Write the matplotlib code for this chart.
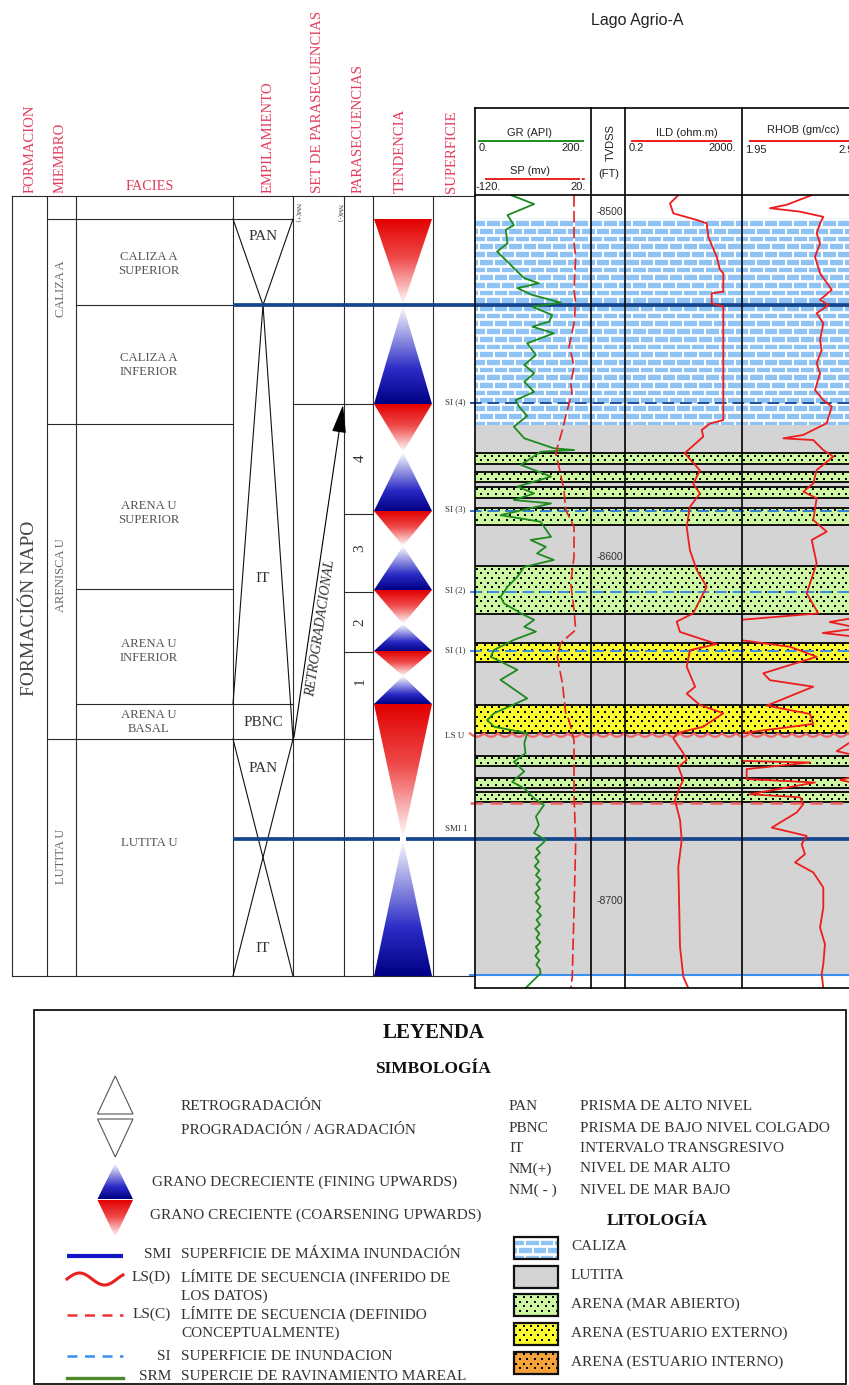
import numpy as np
import matplotlib
matplotlib.use("Agg")
import matplotlib.pyplot as plt
from matplotlib.patches import Polygon, Rectangle
from matplotlib.collections import LineCollection
from matplotlib.colors import LinearSegmentedColormap

# ---------------------------------------------------------------- log data
# Depth is TVDSS in feet (positive down); labels show it negative.
GR_DEPTH = [8495.1, 8497.7, 8500.9, 8503.8, 8505.2, 8509.1, 8511.5, 8514.4, 8517.3, 8519.2,
            8520.7, 8522.1, 8524.1, 8526.3, 8527.5, 8529.9, 8531.8, 8533.3, 8535.2, 8538.1,
            8541.5, 8544.4, 8546.8, 8549.3, 8552.2, 8554.6, 8556.5, 8559.2, 8562.3, 8565.7,
            8568.6, 8569.1, 8569.6, 8573.4, 8576.8, 8579.7, 8581.7, 8583.6, 8584.6, 8588.0,
            8589.9, 8594.3, 8595.2, 8597.2, 8599.1, 8601.0, 8603.0, 8605.9, 8608.8, 8611.7,
            8613.6, 8616.5, 8618.4, 8620.4, 8621.8, 8624.2, 8627.1, 8629.1, 8631.0, 8632.9,
            8635.8, 8641.2, 8645.5, 8647.5, 8649.4, 8651.3, 8654.2, 8657.1, 8659.6, 8662.4,
            8665.4, 8667.3, 8670.2, 8672.1, 8675.5, 8677.9, 8680.3, 8682.3, 8683.5, 8684.8,
            8686.0, 8687.3, 8688.6, 8689.9, 8691.2, 8692.5, 8693.8, 8695.1, 8696.4, 8697.7,
            8699.0, 8700.3, 8701.6, 8702.9, 8704.2, 8705.5, 8706.8, 8708.1, 8709.4, 8710.7,
            8712.0, 8713.3, 8714.6, 8715.9, 8717.2, 8718.5, 8719.8, 8721.0, 8725.8]
GR_API = [62, 102, 56, 67, 53, 56, 38, 56, 73, 85,
          110, 73, 99, 148, 99, 133, 128, 99, 136, 90,
          105, 85, 102, 85, 102, 70, 76, 90, 67, 85,
          136, 171, 113, 79, 131, 73, 102, 67, 131, 44,
          113, 131, 96, 122, 107, 136, 85, 73, 56, 44,
          50, 79, 102, 85, 105, 67, 33, 27, 50, 73,
          44, 90, 33, 21, 33, 90, 85, 87, 67, 85,
          64, 85, 102, 119, 105, 110, 102, 122, 115, 106,
          112, 104, 110, 103, 111, 105, 113, 106, 112, 104,
          110, 105, 113, 107, 114, 106, 112, 104, 111, 106,
          113, 105, 110, 104, 111, 106, 112, 113, 84]

SP_DEPTH = [8495.1, 8509.0, 8513.1, 8522.6, 8526.4, 8532.2, 8539.2, 8542.1, 8545.0, 8549.6,
            8552.5, 8557.5, 8563.3, 8570.0, 8574.0, 8580.7, 8586.5, 8591.4, 8600.1, 8607.7,
            8615.5, 8621.3, 8625.1, 8629.2, 8636.7, 8645.4, 8647.5, 8653.3, 8668.7, 8683.2,
            8702.6, 8722.1, 8725.8]
SP_MV = [-0.5, -0.5, 1.5, -0.5, 1.5, -0.5, -6.5, -2.9, -0.5, -4.5,
         -2.9, -8.6, -14.6, -22.6, -18.6, -12.6, -10.5, -0.5, -0.5, -4.5,
         -0.5, 1.5, -16.6, -20.7, -14.6, -10.5, -6.5, -0.5, -0.5, 1.5,
         -0.5, -2.6, -4.5]

ILD_DEPTH = [8495.1, 8497.5, 8500.4, 8502.3, 8503.3, 8507.2, 8513.0, 8516.8, 8517.8, 8523.1,
             8523.6, 8526.5, 8527.5, 8560.4, 8561.4, 8563.3, 8565.2, 8570.0, 8575.0, 8578.9,
             8581.7, 8585.6, 8591.4, 8598.1, 8603.9, 8608.8, 8612.6, 8616.5, 8618.9, 8621.9,
             8625.4, 8627.2, 8632.0, 8637.8, 8639.8, 8643.1, 8645.5, 8649.4, 8651.3, 8652.8,
             8657.1, 8659.1, 8661.0, 8664.9, 8666.8, 8670.7, 8676.5, 8682.3, 8690.0, 8703.6,
             8713.3, 8722.0, 8725.3]
ILD_OHMM = [13.3, 6.9, 9.0, 56.5, 124, 141, 273, 354, 459, 459,
            184, 184, 459, 459, 161, 84, 95, 22, 73, 43,
            73, 33, 25.7, 33, 56.5, 124, 73, 43, 11.7, 15.2,
            273, 33, 25.7, 50, 25.7, 73, 459, 95, 11.7, 9.0,
            19.7, 25.7, 13.3, 19.7, 15.2, 10.2, 15.2, 17.4, 13.3, 14.4,
            15.2, 19.7, 29.2]

RHOB_DEPTH = [8495.1, 8497.9, 8498.9, 8499.9, 8501.4, 8503.3, 8506.2, 8509.1, 8513.0, 8517.8,
              8522.6, 8525.5, 8527.0, 8529.4, 8532.3, 8537.2, 8540.1, 8543.9, 8546.8, 8551.7,
              8554.6, 8556.5, 8561.3, 8564.7, 8565.7, 8566.2, 8569.1, 8571.0, 8574.9, 8578.8,
              8581.2, 8583.1, 8589.4, 8592.8, 8595.2, 8602.0, 8610.7, 8616.5, 8618.5, 8624.1,
              8626.2, 8629.1, 8633.9, 8635.9, 8637.8, 8643.3, 8645.7, 8648.6, 8651.5, 8659.3,
              8659.8, 8661.7, 8664.6, 8665.6, 8669.0, 8669.9, 8671.9, 8674.3, 8678.7, 8681.1,
              8683.5, 8686.4, 8688.8, 8691.7, 8696.1, 8701.9, 8707.7, 8712.5, 8718.3, 8721.2,
              8725.3]
RHOB_GCC = [2.546, 2.332, 2.189, 2.446, 2.645, 2.617, 2.588, 2.617, 2.574, 2.617,
            2.717, 2.617, 2.688, 2.588, 2.645, 2.617, 2.631, 2.588, 2.617, 2.574,
            2.645, 2.717, 2.674, 2.474, 2.303, 2.559, 2.645, 2.730, 2.588, 2.559,
            2.474, 2.588, 2.559, 2.674, 2.546, 2.588, 2.503, 2.602, 1.90, 1.90,
            2.360, 2.588, 2.132, 2.189, 2.559, 2.161, 2.531, 2.559, 1.90, 1.90,
            2.531, 1.990, 1.990, 2.574, 2.018, 2.446, 2.474, 2.418, 2.204, 2.503,
            2.460, 2.488, 2.403, 2.559, 2.645, 2.645, 2.617, 2.659, 2.645, 2.631,
            2.645]
# wrapped (off-scale) density readings re-entering from the right of the track
RHOB_WRAP_DEPTH = [[8617.6, 8619.0, 8620.8, 8622.2, 8623.4],
                   [8652.2, 8656.5, 8658.0],
                   [8663.5, 8664.9, 8666.0]]
RHOB_WRAP_GCC = [[2.95, 2.70, 2.95, 2.64, 2.95],
                 [2.95, 2.76, 2.95],
                 [2.95, 2.79, 2.95]]

# ---------------------------------------------------------------- lithology
LITHO_TOP = [8501.7, 8561.8, 8570.0, 8573.2, 8575.5, 8578.4, 8579.8, 8583.0, 8585.9, 8590.9,
             8602.8, 8616.7, 8625.1, 8630.6, 8643.1, 8651.3, 8657.8, 8660.8, 8664.2, 8667.3,
             8668.4, 8671.3]
LITHO_BASE = [8561.8, 8570.0, 8573.2, 8575.5, 8578.4, 8579.8, 8583.0, 8585.9, 8590.9, 8602.8,
              8616.7, 8625.1, 8630.6, 8643.1, 8651.3, 8657.8, 8660.8, 8664.2, 8667.3, 8668.4,
              8671.3, 8721.5]
LITHO_TYPE = ['caliza', 'lutita', 'arena_ma', 'lutita', 'arena_ma', 'lutita', 'arena_ma', 'lutita',
              'arena_ma', 'lutita', 'arena_ma', 'lutita', 'arena_ee', 'lutita', 'arena_ee', 'lutita',
              'arena_ma', 'lutita', 'arena_ma', 'lutita', 'arena_ma', 'lutita']

# ---------------------------------------------------------------- surfaces
SMI_DEPTH = [8527.0, 8682.0]
SI_DEPTH = [8555.4, 8586.8, 8610.3, 8627.4]
SI_COLOR = ['#1d4f9c', '#2f7fd6', '#3a8fe4', '#3a8fe4']
LSU_DEPTH = 8651.8
LSC_DEPTH = 8671.5
BASE_DEPTH = 8721.5
SURF_LABELS = ['SI (4)', 'SI (3)', 'SI (2)', 'SI (1)', 'LS U', 'SMI 1']
SURF_LABEL_DEPTH = [8555.2, 8586.2, 8609.7, 8627.1, 8652.1, 8679.1]
DEPTH_TICKS = [8500, 8600, 8700]

# ---------------------------------------------------------------- stratigraphic columns
HEADER_LABELS = ['FORMACION', 'MIEMBRO', 'EMPILAMIENTO', 'SET DE PARASECUENCIAS',
                 'PARASECUENCIAS', 'TENDENCIA', 'SUPERFICIE']
HEADER_X = [30, 60, 268, 318, 358, 400, 452]
MEMBERS = ['CALIZA A', 'ARENISCA U', 'LUTITA U']
MEMBER_Y = [289, 575, 856]
FACIES = ['CALIZA A\nSUPERIOR', 'CALIZA A\nINFERIOR', 'ARENA U\nSUPERIOR',
          'ARENA U\nINFERIOR', 'ARENA U\nBASAL', 'LUTITA U']
FACIES_Y = [264, 365, 513, 651, 722, 843]
SYSTEMS_TRACTS = ['PAN', 'IT', 'PBNC', 'PAN', 'IT']
SYSTEMS_Y = [236, 579, 722, 768, 948]
PARASEQ = ['4', '3', '2', '1']
PARASEQ_Y = [458, 548, 622, 681]
# grain-size trend triangles: (kind, base, apex) in column pixels
TREND_KIND = ['cu', 'fu', 'cu', 'fu', 'cu', 'fu', 'cu', 'fu', 'cu', 'fu', 'cu', 'fu']
TREND_BASE = [219, 404, 404, 511, 511, 590, 590, 651, 651, 704, 704, 976]
TREND_APEX = [305, 305, 452, 452, 546, 546, 624, 624, 676, 676, 839, 839]

# ---------------------------------------------------------------- legend text
LEG_SYMBOLS = [('RETROGRADACIÓN', 181, 1107), ('PROGRADACIÓN / AGRADACIÓN', 181, 1131),
               ('GRANO DECRECIENTE (FINING UPWARDS)', 152, 1182),
               ('GRANO CRECIENTE (COARSENING UPWARDS)', 150, 1215)]
LEG_LINES = [('SMI', 'SUPERFICIE DE MÁXIMA INUNDACIÓN', 1254),
             ('LS(D)', 'LÍMITE DE SECUENCIA (INFERIDO DE\nLOS DATOS)', 1277),
             ('LS(C)', 'LÍMITE DE SECUENCIA (DEFINIDO\nCONCEPTUALMENTE)', 1314),
             ('SI', 'SUPERFICIE DE INUNDACION', 1356),
             ('SRM', 'SUPERCIE DE RAVINAMIENTO MAREAL', 1377)]
LEG_ABBR = [('PAN', 'PRISMA DE ALTO NIVEL', 1107), ('PBNC', 'PRISMA DE BAJO NIVEL COLGADO', 1129),
            ('IT', 'INTERVALO TRANSGRESIVO', 1149), ('NM(+)', 'NIVEL DE MAR ALTO', 1169),
            ('NM( - )', 'NIVEL DE MAR BAJO', 1190)]
LEG_LITHO = [('caliza', 'CALIZA'), ('lutita', 'LUTITA'), ('arena_ma', 'ARENA (MAR ABIERTO)'),
             ('arena_ee', 'ARENA (ESTUARIO EXTERNO)'), ('arena_ei', 'ARENA (ESTUARIO INTERNO)')]

# ---------------------------------------------------------------- styling
SERIF = ['Liberation Serif', 'DejaVu Serif']
SANS = ['Liberation Sans', 'DejaVu Sans']
BRICK_BLUE = '#8fc3f4'
LITHO_COLOR = {'caliza': BRICK_BLUE, 'lutita': '#d4d4d4', 'arena_ma': '#cdf7a0',
               'arena_ee': '#fbfb2e', 'arena_ei': '#f5a23a'}
HDR_RED = '#e33c5c'
BLUE_CM = LinearSegmentedColormap.from_list('fu', [(0, '#000084'), (0.35, '#2b2bc6'), (1, '#ffffff')])
RED_CM = LinearSegmentedColormap.from_list('cu', [(0, '#e20000'), (0.45, '#ef4a4a'), (1, '#ffffff')])

W, H = 849, 1385
LOG_TOP, LOG_BOT = 195, 988
X_LOG0, X_LOG1 = 475, 849
PX_PER_FT, Y_8500 = 3.445, 212.0


def ft(y):
    return 8500.0 + (y - Y_8500) / PX_PER_FT


def px(d):
    return Y_8500 + (d - 8500.0) * PX_PER_FT


fig = plt.figure(figsize=(W / 100, H / 100), dpi=100)


def pixel_axes(z):
    a = fig.add_axes([0, 0, 1, 1], zorder=z)
    a.set_xlim(0, W)
    a.set_ylim(H, 0)
    a.axis('off')
    return a


ax = pixel_axes(0)                       # schematic columns, header, legend
dax = fig.add_axes([0, 0, 1, 1], zorder=1)   # x in pixels, y in depth
dax.set_xlim(0, W)
dax.set_ylim(ft(H), ft(0))
dax.axis('off')
fr = pixel_axes(4)                       # track frames on top


def brick_fill(target, x0, x1, y0, y1, z=1.1):
    target.add_patch(Rectangle((x0, y0), x1 - x0, y1 - y0, facecolor=BRICK_BLUE,
                               edgecolor='none', transform=ax.transData, zorder=z))
    pitch, blen = 7.7, 14.6
    ys = np.arange(y0 + 1.5, y1, pitch)
    hsegs = [[(x0, y), (x1, y)] for y in ys]
    edges = np.concatenate([[y0], ys, [y1]])
    vsegs = []
    for i in range(len(edges) - 1):
        off = (i % 2) * blen / 2
        for x in np.arange(x0 + off + 4, x1, blen):
            vsegs.append([(x, edges[i]), (x, edges[i + 1])])
    target.add_collection(LineCollection(hsegs, colors='white', linewidths=1.9,
                                         transform=ax.transData, zorder=z + 0.01), autolim=False)
    target.add_collection(LineCollection(vsegs, colors='white', linewidths=1.4,
                                         transform=ax.transData, zorder=z + 0.01), autolim=False)


def dot_fill(target, x0, x1, y0, y1, z=1.2):
    pts = []
    for j, y in enumerate(np.arange(y0 + 2.4, y1 - 1.0, 4.7)):
        off = (j % 2) * 3.65
        for x in np.arange(x0 + 2.5 + off, x1, 7.3):
            pts.append((x, y))
    if pts:
        pts = np.array(pts)
        target.scatter(pts[:, 0], pts[:, 1], s=2.6, marker='s', c='black', linewidths=0,
                       transform=ax.transData, zorder=z)


def grad_tri(target, x0, x1, y_base, y_apex, cmap, z=2):
    t = np.linspace(0, 1, 256)
    cols = cmap(t) if y_base < y_apex else cmap(t[::-1])
    img = np.repeat(cols[:, None, :], 2, axis=1)
    ytop, ybot = min(y_base, y_apex), max(y_base, y_apex)
    im = target.imshow(img, extent=(x0, x1, ybot, ytop), origin='upper', aspect='auto',
                       interpolation='bilinear', zorder=z)
    tri = Polygon([(x0, y_base), (x1, y_base), ((x0 + x1) / 2, y_apex)], closed=True,
                  facecolor='none', edgecolor='none', transform=target.transData)
    target.add_patch(tri)
    im.set_clip_path(tri)


def swatch(target, kind, x0, x1, y0, y1):
    if kind == 'caliza':
        brick_fill(target, x0, x1, y0, y1, z=3)
    else:
        target.add_patch(Rectangle((x0, y0), x1 - x0, y1 - y0, facecolor=LITHO_COLOR[kind],
                                   edgecolor='none', zorder=3))
        if kind.startswith('arena'):
            dot_fill(target, x0, x1, y0, y1, z=3.2)
    target.add_patch(Rectangle((x0, y0), x1 - x0, y1 - y0, facecolor='none',
                               edgecolor='#111111', lw=1.6, zorder=3.5))


# ================================================================ log lithology
for top, base, kind in zip(LITHO_TOP, LITHO_BASE, LITHO_TYPE):
    if kind == 'caliza':
        brick_fill(dax, X_LOG0, 860, px(top), px(base))
        continue
    dax.add_patch(Rectangle((X_LOG0, top), 860 - X_LOG0, base - top,
                            facecolor=LITHO_COLOR[kind], edgecolor='none', zorder=1))
    if kind.startswith('arena'):
        dot_fill(dax, X_LOG0, 860, px(top), px(base))
        dax.hlines([top, base], X_LOG0, 860, colors='#111111', lw=1.4, zorder=1.5)

# surfaces
for d in SMI_DEPTH:
    segs = [(233, 849)] if d == SMI_DEPTH[0] else [(233, 400), (406, 849)]
    for a, b in segs:
        dax.plot([a, b], [d, d], color='#15458c', lw=2.7, solid_capstyle='butt', zorder=2)
for d, c in zip(SI_DEPTH, SI_COLOR):
    dax.plot([470, 849], [d, d], color=c, lw=1.4, dashes=(6, 3), zorder=2)
xs = np.linspace(470, 849, 1200)
dax.plot(xs, px(LSU_DEPTH) - 1.6 + 3.4 * np.abs(np.sin(np.pi * (xs - 470) / 14.0)),
         color='#f06464', lw=1.6, transform=ax.transData, zorder=2)
dax.plot([470, 849], [LSC_DEPTH, LSC_DEPTH], color='#f06464', lw=1.8, dashes=(5, 3), zorder=2)
dax.plot([470, 849], [BASE_DEPTH, BASE_DEPTH], color='#3a8ff0', lw=1.5, zorder=2)

for lab, d in zip(SURF_LABELS, SURF_LABEL_DEPTH):
    dax.text(445, d, lab, family=SERIF, fontsize=6.5, color='#333333', ha='left', va='center', zorder=3)
for d in DEPTH_TICKS:
    dax.text(623, d, f'-{d}', family=SANS, fontsize=7.5, color='#333333', ha='right', va='center', zorder=3)


# ================================================================ curves
def track(x0, x1, xlim, log=False):
    a = fig.add_axes([x0 / W, 1 - LOG_BOT / H, (x1 - x0) / W, (LOG_BOT - LOG_TOP) / H], zorder=3)
    if log:
        a.set_xscale('log')
    a.set_xlim(*xlim)
    a.set_ylim(ft(LOG_BOT), ft(LOG_TOP))
    a.axis('off')
    return a


gr_ax = track(475, 591, (0, 200))
sp_ax = track(475, 591, (-120, 20))
ild_ax = track(625, 742, (0.2, 2000), log=True)
rhob_ax = track(742, 859, (1.95, 2.95))

gr_ax.plot(GR_API, GR_DEPTH, color='#1e8a1e', lw=1.3)
sp_ax.plot(SP_MV, SP_DEPTH, color='#e62222', lw=1.2, dashes=(7, 2.5))
ild_ax.plot(ILD_OHMM, ILD_DEPTH, color='#ee1c1c', lw=1.3)
rhob_ax.plot(RHOB_GCC, RHOB_DEPTH, color='#ee1c1c', lw=1.3)
for dd, vv in zip(RHOB_WRAP_DEPTH, RHOB_WRAP_GCC):
    rhob_ax.plot(vv, dd, color='#ee1c1c', lw=1.3)

# ================================================================ track frames + header
for x in [475, 591, 625, 742]:
    fr.plot([x, x], [108, LOG_BOT], color='black', lw=1.2)
for y in [108, 195, LOG_BOT]:
    fr.plot([475, 849], [y, y], color='black', lw=1.2)

fr.text(637, 20, 'Lago Agrio-A', family=SANS, fontsize=11.5, ha='center', va='center', color='#222222')
hdr = dict(family=SANS, fontsize=8, color='#222222')
fr.text(530, 133, 'GR (API)', ha='center', va='center', **hdr)
fr.plot([479, 583], [141, 141], color='#1e8a1e', lw=1.4)
fr.text(479, 148, '0.', ha='left', va='center', **hdr)
fr.text(583, 148, '200.', ha='right', va='center', **hdr)
fr.text(530, 171, 'SP (mv)', ha='center', va='center', **hdr)
fr.plot([486, 577], [179, 179], color='#e62222', lw=1.4)
fr.plot([577, 585], [179, 179], color='#e62222', lw=1.4, dashes=(1.5, 1))
fr.text(476, 187, '-120.', ha='left', va='center', **hdr)
fr.text(586, 187, '20.', ha='right', va='center', **hdr)
fr.text(611, 143, 'TVDSS', rotation=90, ha='center', va='center', **hdr)
fr.text(609, 174, '(FT)', ha='center', va='center', **hdr)
fr.text(687, 133, 'ILD (ohm.m)', ha='center', va='center', **hdr)
fr.plot([632, 731], [141, 141], color='#ee1c1c', lw=1.4)
fr.text(629, 148, '0.2', ha='left', va='center', **hdr)
fr.text(736, 148, '2000.', ha='right', va='center', **hdr)
fr.text(803, 130, 'RHOB (gm/cc)', ha='center', va='center', **hdr)
fr.plot([750, 849], [141, 141], color='#ee1c1c', lw=1.4)
fr.text(745, 150, '1.95', ha='left', va='center', **hdr)
fr.text(860, 150, '2.95', ha='right', va='center', **hdr)

# ================================================================ stratigraphic columns
line_kw = dict(color='#2a2a2a', lw=0.8)
for x in [12, 47, 76, 233, 293, 344, 373, 433]:
    ax.plot([x, x], [196, 976], **line_kw)
for x0, x1, y in [(12, 475, 196), (12, 475, 976), (47, 293, 219), (76, 233, 305), (47, 233, 424),
                  (76, 233, 589), (76, 293, 704), (47, 373, 739), (293, 373, 404),
                  (344, 373, 514), (344, 373, 592), (344, 373, 652)]:
    ax.plot([x0, x1], [y, y], **line_kw)

for lab, x in zip(HEADER_LABELS, HEADER_X):
    ax.text(x, 193, lab, rotation=90, ha='center', va='bottom', family=SERIF,
            fontsize=10.6, color=HDR_RED)
ax.text(150, 186, 'FACIES', ha='center', va='center', family=SERIF, fontsize=10.3, color=HDR_RED)

ax.text(30, 608, 'FORMACIÓN NAPO', rotation=90, ha='center', va='center', family=SERIF,
        fontsize=14, color='#444444')
for lab, y in zip(MEMBERS, MEMBER_Y):
    ax.text(61, y, lab, rotation=90, ha='center', va='center', family=SERIF, fontsize=9, color='#666666')
for lab, y in zip(FACIES, FACIES_Y):
    ax.text(149, y, lab, ha='center', va='center', family=SERIF, fontsize=9.2, color='#555555',
            linespacing=1.15)

# stacking pattern (hourglass) lines
for (xa, ya), (xb, yb) in [((233, 219), (263, 305)), ((293, 219), (263, 305)),
                           ((263, 305), (233, 704)), ((263, 305), (293, 739)),
                           ((233, 739), (293, 976)), ((293, 739), (233, 976))]:
    ax.plot([xa, xb], [ya, yb], color='#111111', lw=0.8)
for lab, y in zip(SYSTEMS_TRACTS, SYSTEMS_Y):
    ax.text(263, y, lab, ha='center', va='center', family=SERIF, fontsize=11, color='#333333')

# parasequence set
ax.annotate('', xy=(343, 405), xytext=(294, 737),
            arrowprops=dict(arrowstyle='-|>,head_length=1.1,head_width=0.28', color='black',
                            lw=0.8, mutation_scale=16, shrinkA=0, shrinkB=0))
ax.text(321, 628, 'RETROGRADACIONAL', rotation=81.6, rotation_mode='anchor', ha='center', va='center',
        family=SERIF, fontstyle='italic', fontsize=10, color='#333333')
ax.text(298, 213, 'NM(+)', rotation=270, ha='center', va='center', family=SERIF, fontsize=5, color='#333333')
ax.text(340, 213, 'NM(-)', rotation=270, ha='center', va='center', family=SERIF, fontsize=5, color='#333333')

for lab, y in zip(PARASEQ, PARASEQ_Y):
    ax.text(360, y, lab, rotation=90, ha='center', va='center', family=SERIF, fontsize=11, color='#333333')

for kind, yb, ya in zip(TREND_KIND, TREND_BASE, TREND_APEX):
    grad_tri(ax, 374, 432, yb, ya, RED_CM if kind == 'cu' else BLUE_CM)

# ================================================================ legend
ax.add_patch(Rectangle((34, 1010), 812, 374, facecolor='white', edgecolor='#111111', lw=1.3, zorder=1))
ax.text(434, 1033, 'LEYENDA', ha='center', va='center', family=SERIF, fontsize=15,
        fontweight='bold', color='#111111', zorder=4)
ax.text(433, 1069, 'SIMBOLOGÍA', ha='center', va='center', family=SERIF, fontsize=12.5,
        fontweight='bold', color='#111111', zorder=4)
ax.text(657, 1221, 'LITOLOGÍA', ha='center', va='center', family=SERIF, fontsize=12.5,
        fontweight='bold', color='#111111', zorder=4)

leg_kw = dict(family=SERIF, fontsize=11, color='#333333', va='center', zorder=4)
ax.add_patch(Polygon([(97.5, 1114), (133, 1114), (115.25, 1076)], closed=True, facecolor='white',
                     edgecolor='#555555', lw=0.8, zorder=3))
ax.add_patch(Polygon([(97.5, 1119), (133, 1119), (115.25, 1157)], closed=True, facecolor='white',
                     edgecolor='#555555', lw=0.8, zorder=3))
grad_tri(ax, 97.5, 133, 1199, 1163, BLUE_CM, z=3)
grad_tri(ax, 97.5, 133, 1200, 1237, RED_CM, z=3)
for lab, x, y in LEG_SYMBOLS:
    ax.text(x, y, lab, ha='left', linespacing=1.3, **leg_kw)

for abbr, desc, y in LEG_LINES:
    ax.text(171, y, abbr, ha='right', **leg_kw)
    ax.text(181, y + (9 if '\n' in desc else 0), desc, ha='left', linespacing=1.4, **leg_kw)
ax.plot([67, 123], [1256, 1256], color='#1515c8', lw=3.0, solid_capstyle='butt', zorder=3)
wx = np.linspace(67, 123, 100)
ax.plot(wx, 1279 - 6 * np.sin(2 * np.pi * (wx - 67) / 50.0), color='#e82020', lw=2.2, zorder=3)
ax.plot([67, 123], [1315, 1315], color='#ee3333', lw=1.8, dashes=(4, 3), zorder=3)
ax.plot([67, 123], [1356, 1356], color='#3a8ff0', lw=1.8, dashes=(4, 3), zorder=3)
ax.plot([67, 123], [1378, 1378], color='#4d8b2e', lw=2.4, zorder=3)

for abbr, desc, y in LEG_ABBR:
    ax.text(509, y, abbr, ha='left', **leg_kw)
    ax.text(580, y, desc, ha='left', **leg_kw)

for i, (kind, lab) in enumerate(LEG_LITHO):
    y0 = 1237 + i * 28.7
    swatch(ax, kind, 514, 558, y0, y0 + 22)
    ax.text(571, y0 + 10, lab, ha='left', **leg_kw)

for a in (ax, fr):
    a.set_xlim(0, W)
    a.set_ylim(H, 0)
dax.set_xlim(0, W)
dax.set_ylim(ft(H), ft(0))

fig.savefig('out.png', dpi=100, facecolor='white')
